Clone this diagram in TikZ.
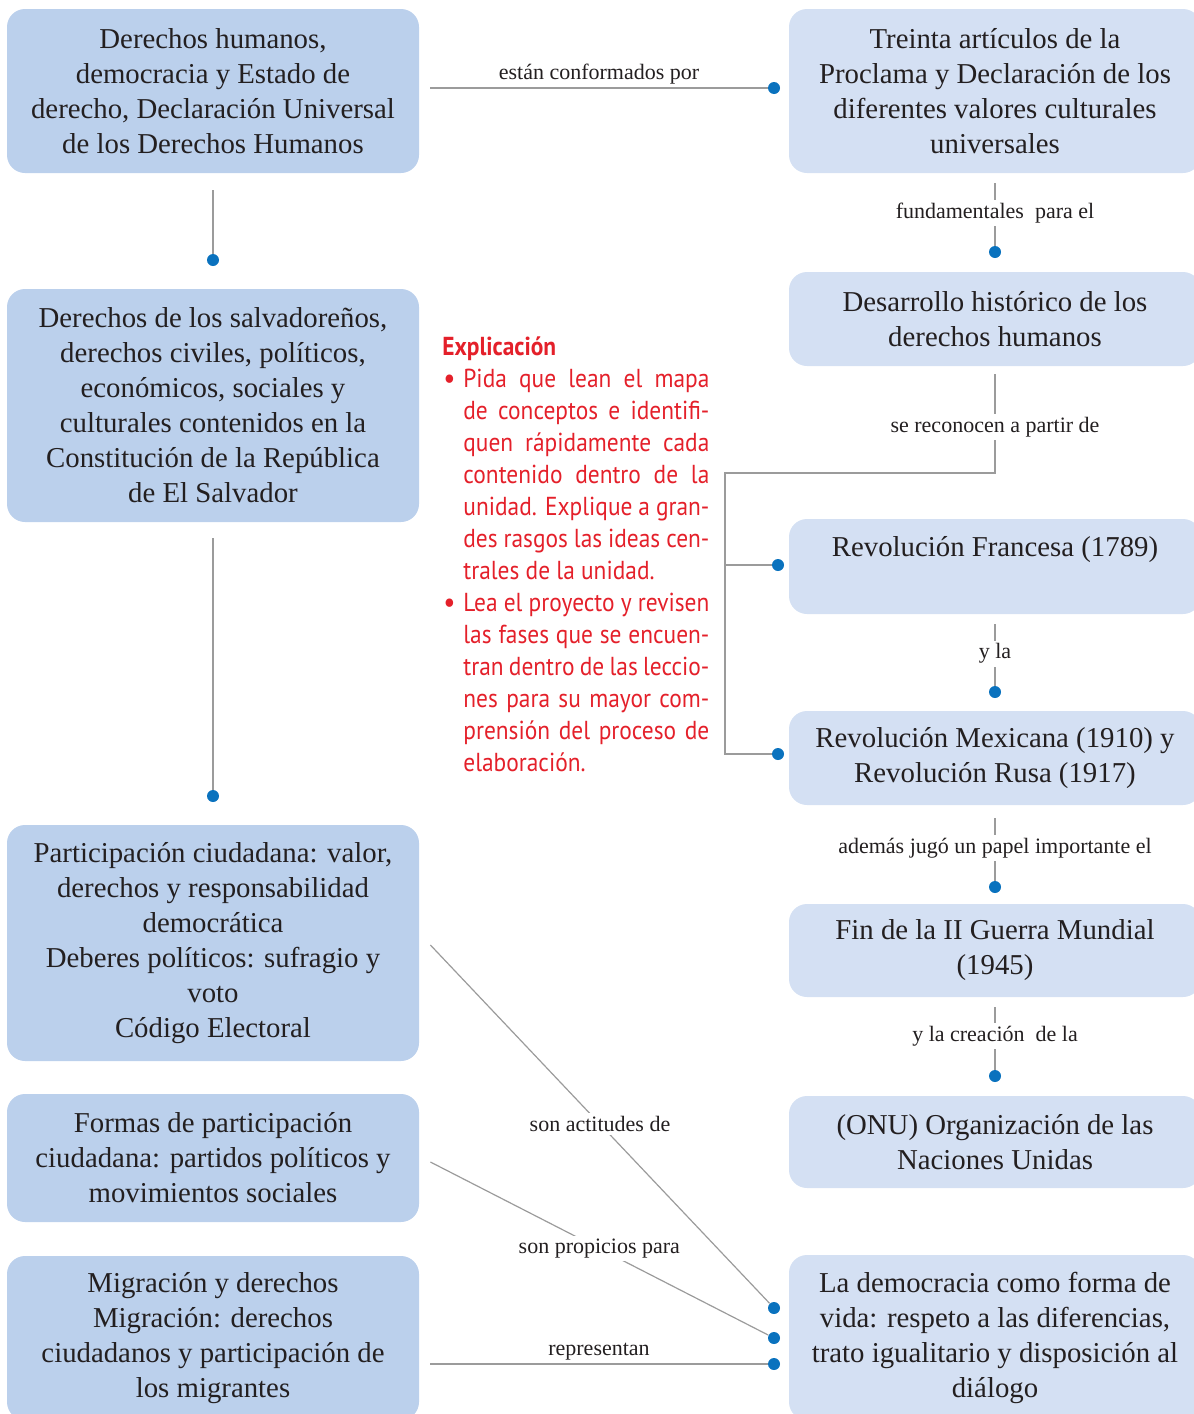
\documentclass[tikz,border=0pt]{standalone}
\usepackage{fontspec}
\setmainfont{Liberation Serif}
\newfontfamily\notefont[FakeStretch=0.9]{PT Sans}
\usetikzlibrary{calc}

\definecolor{boxL}{HTML}{BBD0EC}
\definecolor{boxR}{HTML}{D4E0F3}
\definecolor{dotblue}{HTML}{0A72BE}
\definecolor{linegray}{HTML}{9B9B9B}
\definecolor{notered}{HTML}{E4202A}
\definecolor{ink}{HTML}{231F20}

\tikzset{
  concept/.style={rounded corners=9pt, minimum width=206pt, align=center, text=ink,
    font=\fontsize{14.4}{17.5}\selectfont, inner sep=0pt},
  leftbox/.style={concept, fill=boxL},
  rightbox/.style={concept, fill=boxR},
  link/.style={draw=linegray, line width=0.6pt},
  dot/.style={circle, fill=dotblue, minimum size=6pt, inner sep=0pt},
  lbl/.style={fill=white, inner sep=1.5pt, text=ink, font=\fontsize{11}{13}\selectfont},
}
\newcommand{\notebullet}{\hspace*{0.5pt}\makebox[10pt][l]{\fontsize{15}{16}\selectfont\raisebox{-0.5pt}{•}}}

\begin{document}
\begin{tikzpicture}[x=0.5pt,y=-0.5pt]
\useasboundingbox (0,0) rectangle (1194,1414);

% left column
\node[leftbox, minimum height=82pt] (L1) at (213,91)
  {Derechos humanos,\\ democracia y Estado de\\ derecho, Declaración Universal\\ de los Derechos Humanos};
\node[leftbox, minimum height=116.5pt] (L2) at (213,405.5)
  {Derechos de los salvadoreños,\\ derechos civiles, políticos,\\ económicos, sociales y\\ culturales contenidos en la\\ Constitución de la República\\ de El Salvador};
\node[leftbox, minimum height=118pt] (L3) at (213,943)
  {Participación ciudadana: valor,\\ derechos y responsabilidad\\ democrática\\ Deberes políticos: sufragio y\\ voto\\ Código Electoral};
\node[leftbox, minimum height=64pt] (L4) at (213,1158)
  {Formas de participación\\ ciudadana: partidos políticos y\\ movimientos sociales};
\node[leftbox, minimum height=82pt] (L5) at (213,1338)
  {Migración y derechos\\ Migración: derechos\\ ciudadanos y participación de\\ los migrantes};

% right column
\node[rightbox, minimum height=82pt] (R1) at (995,91)
  {Treinta artículos de la\\ Proclama y Declaración de los\\ diferentes valores culturales\\ universales};
\node[rightbox, minimum height=47pt] (R2) at (995,319)
  {Desarrollo histórico de los\\ derechos humanos};
\node[rightbox, minimum height=47.5pt] (R3) at (995,566.5)
  {\strut Revolución Francesa (1789)\\ \strut};
\node[rightbox, minimum height=47pt] (R4) at (995,758)
  {Revolución Mexicana (1910) y\\ Revolución Rusa (1917)};
\node[rightbox, minimum height=46.5pt] (R5) at (995,950.5)
  {Fin de la II Guerra Mundial\\ (1945)};
\node[rightbox, minimum height=46pt] (R6) at (995,1142)
  {(ONU) Organización de las\\ Naciones Unidas};
\node[rightbox, minimum height=82.5pt] (R7) at (995,1337.5)
  {La democracia como forma de\\ vida: respeto a las diferencias,\\ trato igualitario y disposición al\\ diálogo};

% dots
\node[dot] (dL2) at (213,260) {};
\node[dot] (dL3) at (213,796) {};
\node[dot] (dR1) at (774,88) {};
\node[dot] (dR2) at (995,252) {};
\node[dot] (dR3) at (778,565) {};
\node[dot] (dR4a) at (778,754) {};
\node[dot] (dR4b) at (995,692) {};
\node[dot] (dR5) at (995,887) {};
\node[dot] (dR6) at (995,1076) {};
\node[dot] (dR7a) at (774,1308) {};
\node[dot] (dR7b) at (774,1338) {};
\node[dot] (dR7c) at (774,1364) {};
\coordinate (elbow) at (995,473);
\coordinate (spine) at (725,473);

% connectors
\draw[link] ($(L1.east |- dR1)+(11,0)$) -- (dR1)
  node[lbl, midway, above, fill=none] {están conformados por};
\draw[link, shorten <=8.5pt] (L1) -- (dL2);
\draw[link, shorten <=8pt] (L2) -- (dL3);
\draw[link, shorten <=5pt] (R1) -- (dR2) node[lbl, pos=0.55] {fundamentales\ \ para el};
\draw[link, shorten <=4pt] (R2) -- (elbow) node[lbl, pos=0.57] {se reconocen a partir de}
  -- (spine) |- (dR4a);
\draw[link] (spine |- dR3) -- (dR3);
\draw[link, shorten <=5pt] (R3) -- (dR4b) node[lbl, pos=0.55] {y la};
\draw[link, shorten <=6.5pt] (R4) -- (dR5) node[lbl, pos=0.57] {además jugó un papel importante el};
\draw[link, shorten <=5pt] (R5) -- (dR6) node[lbl, pos=0.54] {y la creación\ \ de la};
\draw[link] ($(L3.east)+(11,2)$) -- (dR7a) node[lbl, pos=0.5] {son actitudes de};
\draw[link] ($(L4.east)+(11,4)$) -- (dR7b) node[lbl, pos=0.5] {son propicios para};
\draw[link] ($(L5.east |- dR7c)+(11,0)$) -- (dR7c)
  node[lbl, midway, above, fill=none] {representan};

% Text Node
\node[anchor=north west, text width=133.5pt, align=justify, inner sep=0pt, text=notered,
  font=\notefont\fontsize{13}{16}\selectfont] (note) at (442,336)
  {\textbf{Explicación}\par
  \hangindent=10.5pt\hangafter=1\noindent\notebullet Pida que lean el mapa\linebreak
  de conceptos e identifi-\linebreak quen rápidamente cada\linebreak contenido dentro de la\linebreak
  unidad. Explique a gran-\linebreak des rasgos las ideas cen-\linebreak trales de la unidad.\par
  \hangindent=10.5pt\hangafter=1\noindent\notebullet Lea el proyecto y revisen\linebreak
  las fases que se encuen-\linebreak tran dentro de las leccio-\linebreak nes para su mayor com-\linebreak
  prensión del proceso de\linebreak elaboración.\par};
\end{tikzpicture}
\end{document}
